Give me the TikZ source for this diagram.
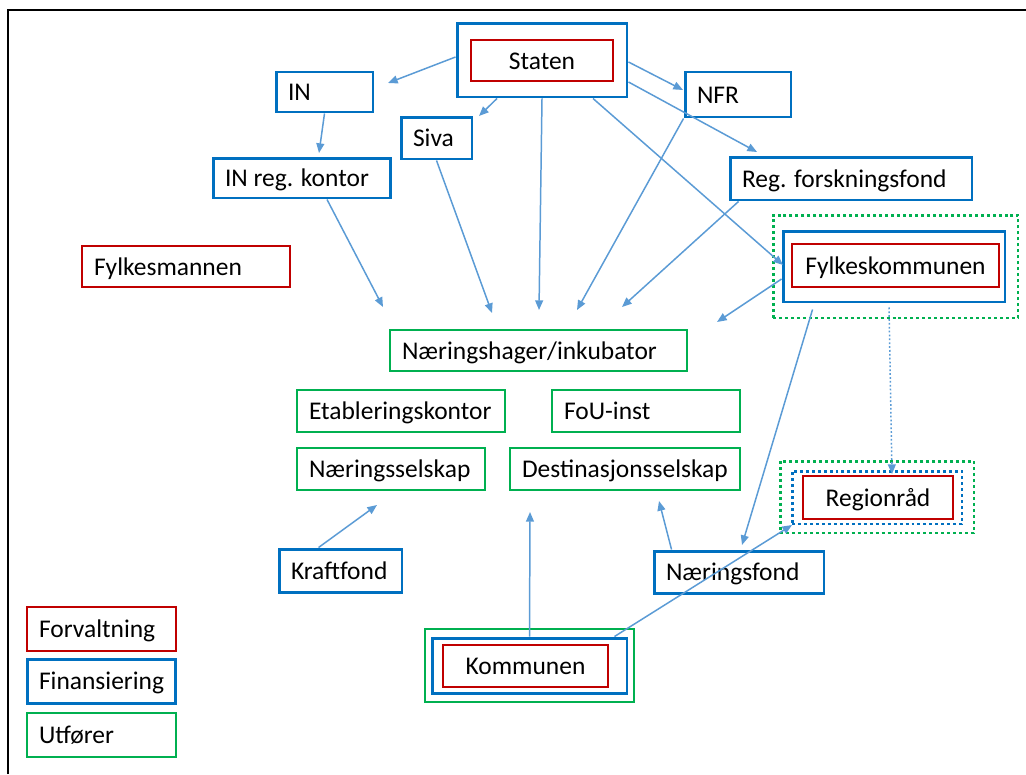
\documentclass[tikz,border=0pt]{standalone}
\usepackage{fontspec}
\setmainfont{Carlito}
\usetikzlibrary{arrows.meta,calc}
\definecolor{cred}{HTML}{C00000}
\definecolor{cblue}{HTML}{0070C0}
\definecolor{cgreen}{HTML}{00B050}
\definecolor{carrow}{HTML}{5B9BD5}
\newcommand\lbx[2]{\makebox[#1][l]{#2}}
\begin{document}
\begin{tikzpicture}[x=0.02cm,y=-0.02cm,
  every node/.style={font=\fontsize{14.5}{17}\selectfont, text height=11.7pt, text depth=1.5pt, inner sep=0pt},
  bxb/.style={draw=cblue, line width=1.7pt},
  bxr/.style={draw=cred, line width=1.6pt},
  bxg/.style={draw=cgreen, line width=1.6pt},
  dotg/.style={draw=cgreen, line width=1.7pt, dash pattern=on 1.7pt off 1.7pt},
  dotb/.style={draw=cblue, line width=1.7pt, dash pattern=on 1.7pt off 1.7pt},
  lb/.style={inner xsep=0.24cm, inner ysep=0pt},
  conn/.style={draw=carrow, line width=0.85pt, -{Triangle[length=5.5pt,width=4.5pt]}},
  connd/.style={conn, dash pattern=on 1pt off 1.2pt}]
\useasboundingbox (0,0) rectangle (1026,774);
% frame
\draw[line width=1.7pt] (8,774) -- (8,10) -- (1026,10);

% Staten
\node[bxb, minimum width=3.4cm, minimum height=1.48cm] (statb) at (542,60) {};
\node[bxr, minimum width=2.84cm, minimum height=0.82cm] (statr) at (542,60.5) {Staten};

% financing boxes
\node[bxb, lb, minimum height=0.8cm] (in) at (324.5,92) {\lbx{1.46cm}{IN}};
\node[bxb, lb, minimum height=0.9cm] (nfr) at (738,94.5) {\lbx{1.64cm}{NFR}};
\node[bxb, lb, minimum height=0.84cm] (siva) at (436.5,138) {\lbx{0.94cm}{Siva}};
\node[bxb, lb, minimum height=0.8cm] (inreg) at (302,178) {\lbx{3.08cm}{IN reg. kontor}};
\node[bxb, lb, minimum height=0.86cm] (regf) at (851,178.5) {\lbx{4.36cm}{Reg. forskningsfond}};
\node[bxr, lb, minimum height=0.82cm] (fylkm) at (186,266.5) {\lbx{3.68cm}{Fylkesmannen}};

% Fylkeskommunen
\node[dotg, minimum width=4.9cm, minimum height=2.06cm] (fylkg) at (895.5,266.5) {};
\node[bxb, minimum width=4.44cm, minimum height=1.42cm] (fylkb) at (894,266.5) {};
\node[bxr, minimum width=4.14cm, minimum height=0.86cm] (fylkr) at (895.5,265.5) {Fylkeskommunen};

% executors
\node[bxg, lb, minimum height=0.82cm] (nhag) at (538.5,350.5) {\lbx{5.46cm}{Næringshager/inkubator}};
\node[bxg, lb, minimum height=0.84cm] (etab) at (401,411) {\lbx{3.68cm}{Etableringskontor}};
\node[bxg, lb, minimum height=0.84cm] (fou) at (646,411) {\lbx{3.28cm}{FoU-inst}};
\node[bxg, lb, minimum height=0.84cm] (nsel) at (391,469) {\lbx{3.28cm}{Næringsselskap}};
\node[bxg, lb, minimum height=0.84cm] (dest) at (625,469) {\lbx{4.12cm}{Destinasjonsselskap}};

% Regionråd
\node[dotg, minimum width=3.88cm, minimum height=1.44cm] (regg) at (877,497) {};
\node[dotb, minimum width=3.4cm, minimum height=1.06cm] (regb) at (877,497.5) {};
\node[bxr, minimum width=3.0cm, minimum height=0.86cm] (regr) at (878,497.5) {Regionråd};

\node[bxb, lb, minimum height=0.86cm] (kraft) at (340.5,570.5) {\lbx{1.98cm}{Kraftfond}};
\node[bxb, lb, minimum height=0.84cm] (nfond) at (739,572) {\lbx{2.92cm}{Næringsfond}};

% Kommunen
\node[bxg, minimum width=4.18cm, minimum height=1.46cm] (komg) at (529.5,665.5) {};
\node[bxb, minimum width=3.9cm, minimum height=1.1cm] (komb) at (529.5,665.5) {};
\node[bxr, minimum width=3.3cm, minimum height=0.84cm] (komr) at (525.5,666) {Kommunen};

% legend
\node[bxr, lb, minimum height=0.88cm] (lgr) at (101.5,629) {\lbx{2.5cm}{Forvaltning}};
\node[bxb, lb, minimum height=0.88cm] (lgb) at (101.5,681) {\lbx{2.5cm}{Finansiering}};
\node[bxg, lb, minimum height=0.88cm] (lgg) at (101.5,735) {\lbx{2.5cm}{Utfører}};

% free arrow ends
\coordinate (eIN) at (388,83);
\coordinate (eINreg) at (319,153);
\coordinate (eSiva) at (479,116);
\coordinate (eNFR) at (683,90);
\coordinate (eRegf) at (757,152);
\coordinate (eFylk) at (783,265);
\coordinate (hA) at (383,307);
\coordinate (hB) at (492,313);
\coordinate (hC) at (539,310);
\coordinate (hD) at (577,310);
\coordinate (hE) at (622,307);
\coordinate (hF) at (717,322);
\coordinate (eNfond) at (742,545);
\coordinate (eReg) at (892,474);
\coordinate (eDestA) at (659,501);
\coordinate (eDestB) at (530,512);
\coordinate (eRegB) at (792,525);
\coordinate (eNsel) at (377,505);

% connectors
\draw[conn] ($(statb.west)+(0,-3)$) -- (eIN);
\draw[conn] (in.south) -- (eINreg);
\draw[conn] ($(statb.south)+(-45,0)$) -- (eSiva);
\draw[conn] ($(statb.east)+(0,2)$) -- (eNFR);
\draw[conn] ($(statb.east)+(0,22)$) -- (eRegf);
\draw[conn] ($(statb.south)+(51,0)$) -- (eFylk);
\draw[conn] ($(statb.south)$) -- (hC);
\draw[conn] ($(inreg.south)+(25,0)$) -- (hA);
\draw[conn] (siva.south) -- (hB);
\draw[conn] (nfr.south west) -- (hD);
\draw[conn] ($(regf.south west)+(10,0)$) -- (hE);
\draw[conn] ($(fylkb.west)+(0,12.5)$) -- (hF);
\draw[conn] ($(fylkb.south west)+(31,6)$) -- (eNfond);
\draw[connd] ($(fylkb.south)+(-5,4)$) -- (eReg);
\draw[conn] ($(nfond.north west)+(19,0)$) -- (eDestA);
\draw[conn] (komb.north) -- (eDestB);
\draw[conn] ($(komb.north east)+(-14,0)$) -- (eRegB);
\draw[conn] ($(kraft.north west)+(41,0)$) -- (eNsel);
\end{tikzpicture}
\end{document}
